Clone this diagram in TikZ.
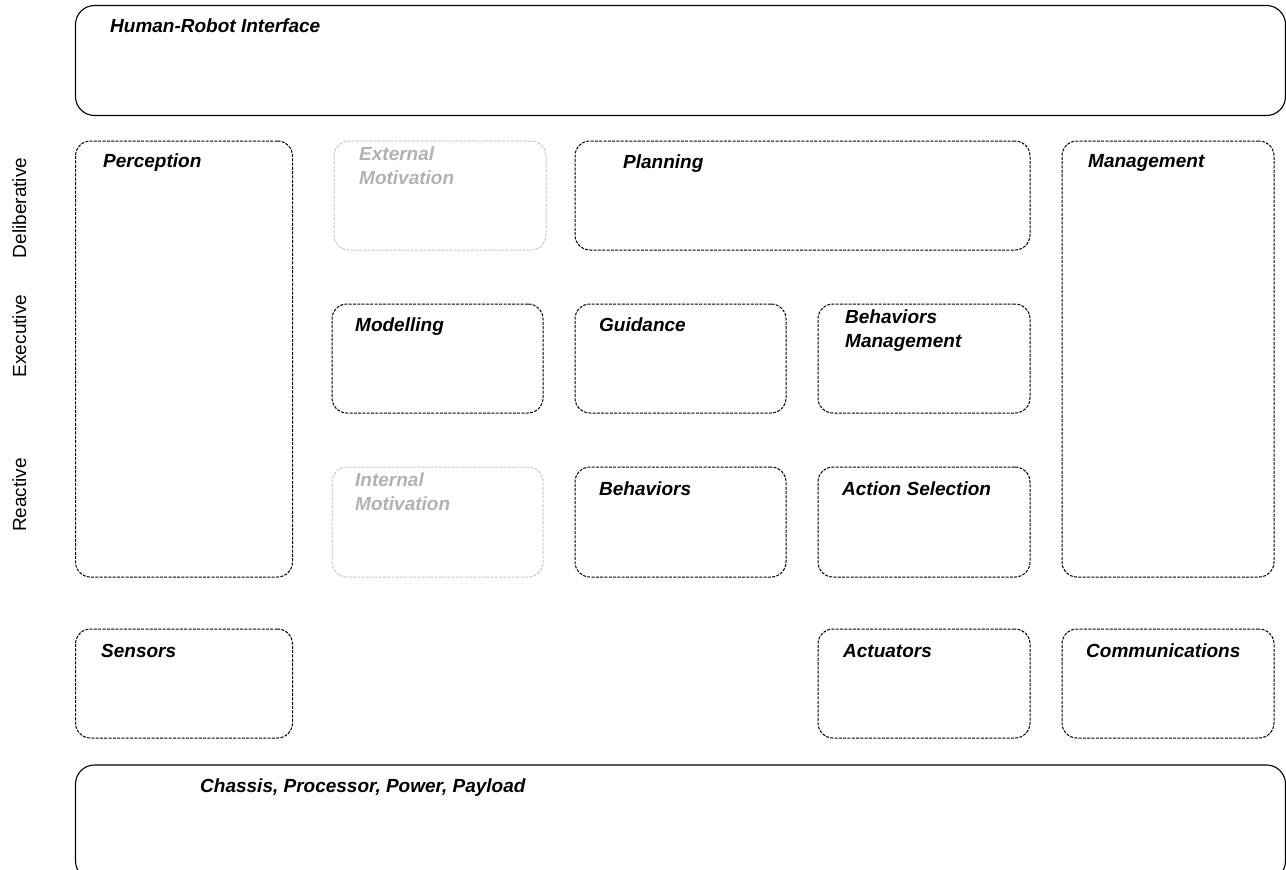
\documentclass[tikz,border=0pt]{standalone}
\usepackage{fontspec}
\setmainfont{Liberation Sans}
\begin{document}
\begin{tikzpicture}[x=1pt,y=-1pt,
  frame/.style={draw, rounded corners=19pt, line width=1.1pt, anchor=north west, outer sep=0pt, inner sep=0pt},
  block/.style={draw, rounded corners=15pt, line width=1pt, dash pattern=on 3pt off 1.3pt,
                anchor=north west, outer sep=0pt, inner sep=0pt},
  faint/.style={block, draw=black!22},
  lab/.style={anchor=base west, inner sep=0pt, align=left,
              font=\fontsize{19}{23.5}\selectfont\bfseries\itshape},
  flab/.style={lab, text=black!30},
  layer/.style={anchor=base, rotate=90, inner sep=0pt, font=\fontsize{19}{23}\selectfont}
]
\useasboundingbox (0,0) rectangle (1286,870);
\begin{scope}
\clip (0,0) rectangle (1286,870);

% outer frames
\node[frame, minimum width=1210pt, minimum height=110pt] (hri) at (75.5,5.5) {};
\node[lab] (hri-t) at (110,32) {Human-Robot Interface};
\node[frame, minimum width=1210pt, minimum height=115pt] (chassis) at (75.5,765) {};
\node[lab] (chassis-t) at (200,792) {Chassis, Processor, Power, Payload};

% layer names
\node[layer] (delib) at (26,208) {Deliberative};
\node[layer] (exec) at (26,336) {Executive};
\node[layer] (react) at (26,495) {Reactive};

% tall columns
\node[block, minimum width=217pt, minimum height=436pt] (perc) at (75.5,141) {};
\node[lab] (perc-t) at (103,167) {Perception};
\node[block, minimum width=212pt, minimum height=436pt] (mgmt) at (1062,141) {};
\node[lab] (mgmt-t) at (1088,167) {Management};

% deliberative row (two-line labels are placed by their last baseline)
\node[faint, minimum width=212pt, minimum height=109pt] (extm) at (334,141) {};
\node[flab] (extm-t) at (359,184) {External\\Motivation};
\node[block, minimum width=455pt, minimum height=109pt] (plan) at (575,141) {};
\node[lab] (plan-t) at (623,168) {Planning};

% executive row
\node[block, minimum width=211pt, minimum height=109pt] (model) at (332,304) {};
\node[lab] (model-t) at (355,331) {Modelling};
\node[block, minimum width=211pt, minimum height=109pt] (guide) at (575,304) {};
\node[lab] (guide-t) at (599,331) {Guidance};
\node[block, minimum width=212pt, minimum height=109pt] (bmgmt) at (818,304) {};
\node[lab] (bmgmt-t) at (845,347) {Behaviors\\Management};

% reactive row
\node[faint, minimum width=211pt, minimum height=110pt] (intm) at (332,467) {};
\node[flab] (intm-t) at (355,510) {Internal\\Motivation};
\node[block, minimum width=211pt, minimum height=110pt] (behav) at (575,467) {};
\node[lab] (behav-t) at (599,495) {Behaviors};
\node[block, minimum width=212pt, minimum height=110pt] (asel) at (818,467) {};
\node[lab] (asel-t) at (842,495) {Action Selection};

% hardware interfaces
\node[block, minimum width=217pt, minimum height=109pt] (sens) at (75.5,629) {};
\node[lab] (sens-t) at (101,657) {Sensors};
\node[block, minimum width=212pt, minimum height=109pt] (act) at (818,629) {};
\node[lab] (act-t) at (843,657) {Actuators};
\node[block, minimum width=212pt, minimum height=109pt] (comm) at (1062,629) {};
\node[lab] (comm-t) at (1086,657) {Communications};
\end{scope}
\end{tikzpicture}
\end{document}
